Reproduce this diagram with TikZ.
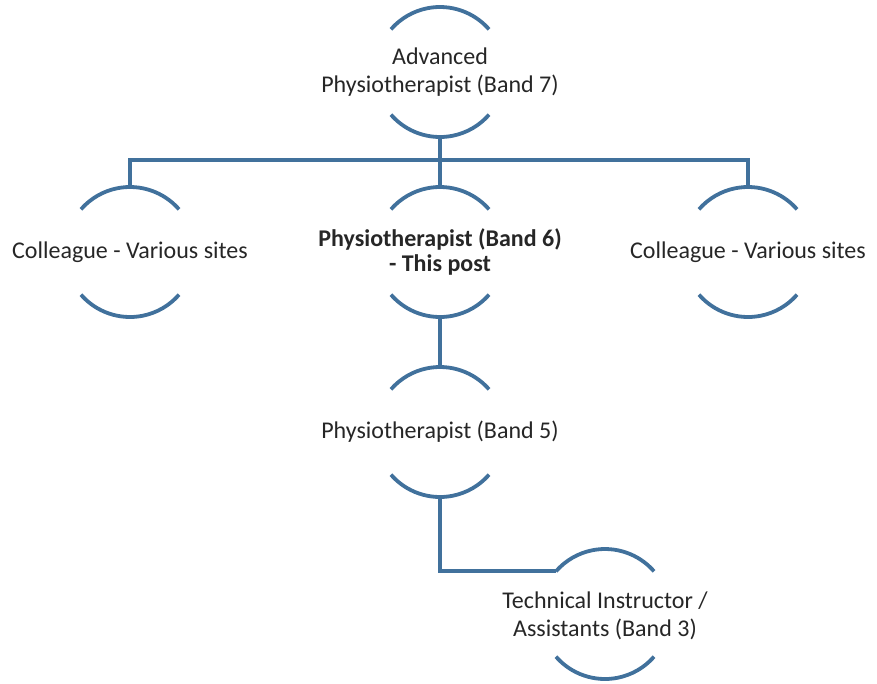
\documentclass[tikz,border=0pt]{standalone}
\usepackage{fontspec}
\setmainfont{Carlito}
\usepackage{tikz}
\usetikzlibrary{calc}

\definecolor{arcblue}{RGB}{65,113,156}
\tikzset{
  ring/.style={circle, minimum size=130pt, inner sep=0pt, outer sep=0pt},
  txt/.style={align=center, text=black!85, font=\fontsize{24}{28}\selectfont},
  link/.style={draw=arcblue, line width=3.8pt}
}

\begin{document}
\begin{tikzpicture}[x=1pt,y=1pt]
                \useasboundingbox (0,0) rectangle (877,-683);
                % the rings
                \node[ring] (top) at (440,-72) {};
                \node[ring] (left) at (130,-252) {};
                \node[ring] (mid) at (440,-252) {};
                \node[ring] (right) at (748,-252) {};
                \node[ring] (bfive) at (440,-432) {};
                \node[ring] (bthree) at (605,-614) {};
                \foreach \n in {top,left,mid,right,bfive,bthree} {
                    \draw [link] (\n.41) arc[start angle=41, end angle=139, radius=65pt];
                    \draw [link] (\n.-139) arc[start angle=-139, end angle=-41, radius=65pt];
                }
                % the texts
                \node[txt] (toptxt) at (top) {Advanced\\Physiotherapist (Band 7)};
                \node[txt] (lefttxt) at (left) {Colleague - Various sites};
                \node[txt, font=\fontsize{24}{25}\selectfont\bfseries] (midtxt) at (mid) {Physiotherapist (Band 6)\\- This post};
                \node[txt] (righttxt) at (right) {Colleague - Various sites};
                \node[txt] (bfivetxt) at (bfive) {Physiotherapist (Band 5)};
                \node[txt] (bthreetxt) at ([yshift=-2pt]bthree) {Technical Instructor /\\Assistants (Band 3)};
                % the lines
                \coordinate (bus) at (440,-160);
                \draw [link] (top.south) -- (bus);
                \draw [link] (left.north) |- (bus) -| (right.north);
                \draw [link] (bus) -- (mid.north);
                \draw [link] (mid.south) -- (bfive.north);
                \draw [link] (bfive.south) |- (bthree.139);
            \end{tikzpicture}
\end{document}
